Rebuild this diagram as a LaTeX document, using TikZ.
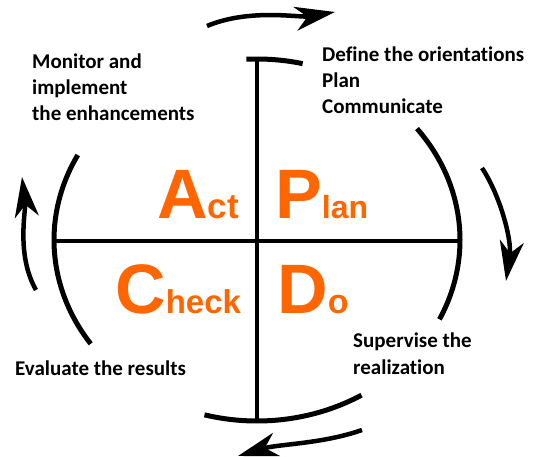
\documentclass[tikz,border=0pt]{standalone}
\usepackage{fontspec}
\setmainfont{Carlito}[Ligatures=NoCommon]
\newfontfamily\bigfont{Liberation Sans}
\usetikzlibrary{arrows.meta}
\definecolor{pdcaorange}{HTML}{FF6600}
\begin{document}
\begin{tikzpicture}[x=1pt,y=-1pt,
  ring/.style={line width=5pt},
  axis/.style={line width=4pt},
  cyclearrow/.style={line width=4.5pt,-{Stealth[length=40pt,width=24pt,inset=12pt]}},
  lab/.style={anchor=base west,inner sep=0pt,align=left,font=\fontsize{21}{26}\selectfont\bfseries},
  pdca/.style={anchor=base west,inner sep=0pt,text=pdcaorange,font=\bigfont\bfseries}]
\useasboundingbox[fill=white] (0,0) rectangle (540,457);
% ellipse arcs
\draw[ring] plot[domain=77:93,samples=20] ({257+203*cos(\x)},{240-181*sin(\x)});
\draw[ring] plot[domain=-26:38,samples=50] ({257+203*cos(\x)},{240-181*sin(\x)});
\draw[ring] plot[domain=-105:-59,samples=40] ({257+203*cos(\x)},{240-181*sin(\x)});
\draw[ring] plot[domain=152:215,samples=50] ({257+203*cos(\x)},{240-181*sin(\x)});
% axes
\coordinate (vtop) at (257,57);
\coordinate (vbot) at (257,419);
\coordinate (hl) at (56,241);
\coordinate (hr) at (458,241);
\draw[axis] (vtop) -- (vbot);
\draw[axis] (hl) -- (hr);
% cycle arrows
\coordinate (t1) at (207,26); \coordinate (t2) at (335,12);
\coordinate (r1) at (482,168); \coordinate (r2) at (506,281);
\coordinate (b1) at (362,430); \coordinate (b2) at (238,456);
\coordinate (l1) at (36,290); \coordinate (l2) at (22,177);
\draw[cyclearrow] (t1) .. controls (250,8) and (300,18) .. (t2);
\draw[cyclearrow] (r1) .. controls (500,195) and (512,240) .. (r2);
\draw[cyclearrow] (b1) .. controls (322,444) and (278,444) .. (b2);
\draw[cyclearrow] (l1) .. controls (16,255) and (26,210) .. (l2);
% PDCA letters
\node[pdca] (act) at (157,218) {\fontsize{70}{70}\selectfont A\fontsize{35}{35}\selectfont ct};
\node[pdca] (plan) at (275,218) {\fontsize{70}{70}\selectfont P\fontsize{32}{32}\selectfont lan};
\node[pdca] (check) at (115,313) {\fontsize{70}{70}\selectfont C\fontsize{33}{33}\selectfont heck};
\node[pdca] (do) at (277,313) {\fontsize{70}{70}\selectfont D\fontsize{34}{34}\selectfont o};
% labels (base anchor = last line baseline)
\node[lab] (monitor) at (32,121) {Monitor and\\implement\\the enhancements};
\node[lab] (define) at (322,114) {Define the orientations\\Plan\\Communicate};
\node[lab] (evaluate) at (15,375) {Evaluate the results};
\node[lab,font=\fontsize{21}{27}\selectfont\bfseries] (supervise) at (353,374) {Supervise the\\realization};
\end{tikzpicture}
\end{document}
